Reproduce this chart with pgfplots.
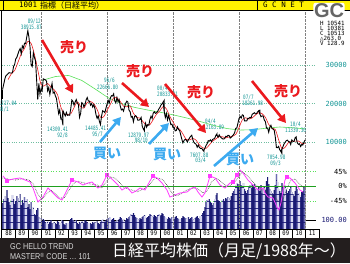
\documentclass[border=0pt]{standalone}
\usepackage{pgfplots}
\pgfplotsset{compat=1.18}
\usepackage{pgfplotstable}
\usepackage{fontspec}
\usepackage{graphicx}
\usetikzlibrary{arrows.meta,patterns}
\setmainfont{Liberation Sans}
\newfontfamily\jp{Noto Sans CJK JP}
\newfontfamily\mono{DejaVu Sans Mono}

\definecolor{tealc}{RGB}{20,150,150}
\definecolor{redc}{RGB}{235,25,30}
\definecolor{bluec}{RGB}{60,170,240}
\definecolor{magc}{RGB}{255,60,255}
\definecolor{navyc}{RGB}{25,25,115}
\definecolor{midc}{RGB}{110,110,180}
\definecolor{lavc}{RGB}{215,215,240}
\definecolor{greenl}{RGB}{90,225,90}
\definecolor{greend}{RGB}{30,160,30}
\definecolor{gridg}{RGB}{110,190,160}
\definecolor{bannerc}{RGB}{35,30,30}

\pgfdeclarepatternformonly{stripeA}{\pgfqpoint{0pt}{0pt}}{\pgfqpoint{7pt}{7pt}}{\pgfqpoint{7pt}{7pt}}{\pgfpathrectangle{\pgfqpoint{3pt}{0pt}}{\pgfqpoint{1.8pt}{7pt}}\pgfusepath{fill}}
\pgfdeclarepatternformonly{stripeB}{\pgfqpoint{0pt}{0pt}}{\pgfqpoint{7pt}{7pt}}{\pgfqpoint{7pt}{7pt}}{\pgfpathrectangle{\pgfqpoint{4.8pt}{0pt}}{\pgfqpoint{2.2pt}{7pt}}\pgfusepath{fill}}

\newcommand{\lf}{\mono\fontsize{6}{6}\selectfont}
\newcommand{\sq}[1]{\scalebox{0.72}[1]{#1}}

\pgfplotstableread{
c
23622
24903
26260
27191
27417
27769
28019
27911
27923
27982
29579
30159
31581
31986
32839
33713
34267
32949
34954
34431
35637
35549
37269
38916
37189
34592
29980
29585
33131
31940
31036
25978
20984
25194
22455
23849
23293
26409
26292
26111
25790
23291
24121
22336
23916
25222
22688
22984
22023
21339
19346
17391
18348
15952
15910
18061
17399
16767
17684
16925
17024
16953
18591
20919
20552
19590
20380
21027
20106
19703
16408
17417
20229
19997
19112
19725
20974
21553
20642
20629
19564
19990
19076
19723
18650
17053
16140
16807
15437
14517
16678
18117
17913
17655
18744
19868
20813
20125
21407
22041
21956
22531
20693
20167
21556
20467
21020
19361
18330
18557
18003
19151
20069
20605
20331
18229
17888
16459
16636
15259
16628
16832
16527
15641
15671
15830
16379
14108
13406
13565
14883
13842
14500
14368
15837
16702
16112
17530
17862
17437
17605
17942
18558
18934
19540
19960
20337
17974
16332
17411
15727
16861
15747
14540
14649
13786
13844
12884
13000
13934
13262
12969
11861
10714
9775
10367
10697
10543
9998
10588
11025
11493
11764
10622
9877
9619
9383
8640
9216
8579
8340
8363
7973
7831
8425
9083
9563
10344
10219
10560
10101
10677
10784
11042
11715
11762
11236
11859
11326
11082
10824
10771
10899
11489
11388
11741
11669
11009
11277
11584
11900
12414
13574
13607
14872
16111
16650
16206
17060
16906
15467
15505
15457
16141
16128
16399
16274
17226
17383
17604
17288
17400
17876
18138
17249
16569
16786
16737
15681
15308
13592
13604
12526
13850
14339
13481
13377
13073
11260
8577
8512
8860
7994
7568
8110
8828
9523
9958
10357
10493
10133
10035
9346
10546
10198
10126
11090
11057
9769
9383
9537
8824
9369
9202
9937
10513
}\pricetab

\pgfplotstableread{
r
26194
27705
28596
30688
32889
34325
36126
35583
32736
28776
24916
24582
25198
24261
23545
22267
19067
17177
17124
17324
18938
20429
19174
18811
20265
20515
19937
18439
16434
16578
18163
19769
21479
21491
20544
19290
19119
19379
17467
16390
16188
15173
14364
14499
15842
17208
18056
19212
18592
16675
15218
13784
13316
12086
10660
10536
10915
10460
9219
8519
8336
9244
10244
10813
11400
11348
11065
11326
11445
11960
13746
15751
16299
15934
16271
17029
17615
17336
16388
14575
13565
13230
10610
8270
8664
9882
10152
10224
10271
9657
9564
}\matab

\pgfplotstableread{
v
26
30
33
28
39
31
27
24
29
34
30
25
28
33
27
31
35
24
29
26
32
28
30
22
25
20
27
18
22
15
14
19
21
12
10
11
8
10
9
7
6
8
5
7
9
6
5
7
6
5
8
7
4
6
9
8
5
4
6
5
6
8
10
11
9
7
8
9
6
5
7
6
8
7
6
9
8
7
6
5
6
5
7
6
7
6
8
6
5
7
9
10
8
7
9
10
11
10
12
9
10
11
8
7
9
8
10
12
11
9
10
8
9
11
10
12
13
15
14
16
14
12
11
10
9
11
10
12
13
14
12
11
12
13
15
14
13
12
14
13
12
14
15
13
14
16
15
13
12
11
10
12
11
10
12
11
10
12
13
11
10
9
10
11
13
12
11
10
11
12
10
11
12
9
10
11
12
13
11
10
13
14
16
18
22
27
29
28
30
27
26
24
26
30
34
36
29
28
27
26
29
30
28
31
30
32
31
29
33
36
38
40
44
46
45
43
48
44
42
46
40
38
36
39
42
44
41
45
43
45
40
41
39
42
38
44
36
40
43
39
48
52
45
40
38
36
35
39
44
55
47
40
38
36
46
42
40
44
39
36
38
40
42
37
35
33
38
42
40
36
34
32
37
38
42
40
}\voltab

\pgfplotsset{base/.style={scale only axis, width=314pt, height=219pt,
  at={(2pt,34pt)}, anchor=south west, xmin=-0.5, xmax=285,
  axis line style={draw=none}, major tick length=0pt,
  xticklabels={}, yticklabels={}}}

\begin{document}
\begin{tikzpicture}[x=1pt,y=1pt]
\useasboundingbox (0,0) rectangle (350,263);
\fill[white] (0,0) rectangle (350,263);

% oscillator grid
\begin{axis}[base, ymin=-129, ymax=528, xtick=\empty, ytick=\empty]
\addplot[greenl, dotted, line width=0.7pt] coordinates {(-0.5,45) (285,45)};
\addplot[greenl, dotted, line width=0.7pt] coordinates {(-0.5,-45) (285,-45)};
\end{axis}

% volume
\begin{axis}[base, ymin=0, ymax=219, xtick=\empty, ytick=\empty]
\addplot[black, line width=0.8pt] coordinates {(-0.5,9) (285,9)};
\addplot[ybar, bar width=1.08, bar shift=0pt, fill=navyc, draw=none] table[x expr=\coordindex, y=v] {\voltab};
\addplot[ybar, bar width=1.08, bar shift=0pt, draw=none, pattern=stripeA, pattern color=midc] table[x expr=\coordindex, y=v] {\voltab};
\addplot[ybar, bar width=1.08, bar shift=0pt, draw=none, pattern=stripeB, pattern color=lavc] table[x expr=\coordindex, y=v] {\voltab};
\end{axis}

% oscillator lines
\begin{axis}[base, ymin=-129, ymax=528, xtick=\empty, ytick=\empty]
\addplot[greend, line width=0.9pt] coordinates {(-0.5,0) (285,0)};
\addplot[black!75, densely dotted, line width=0.6pt] coordinates {
(0,24)(6,20)(12,18)(18,22)(24,18)(28,6)(32,-24)(36,-40)(40,-24)(44,-12)(48,-24)(52,-36)(56,-36)(60,-15)(64,6)(68,15)(74,9)(80,6)(86,3)(90,-6)(94,12)(98,27)(102,24)(106,12)(110,-3)(114,-9)(118,-12)(122,-18)(126,-12)(130,-6)(134,6)(138,21)(142,24)(146,18)(150,0)(154,-21)(158,-30)(162,-24)(166,-15)(170,-9)(174,-6)(178,-9)(182,-21)(186,-15)(190,12)(194,24)(198,15)(202,3)(206,0)(210,9)(214,24)(218,42)(222,33)(226,18)(230,3)(234,-6)(238,-9)(242,-21)(246,-30)(250,-42)(254,-51)(258,-12)(262,18)(266,21)(270,6)(274,-6)};
\addplot[magc, line width=0.8pt] coordinates {
(0.4,30)(4.0,16)(9.5,21)(15.9,24)(25,12)(27.7,-6)(32.2,-48)(36.8,-33)(41.3,-6)(45.9,-21)(50.4,-36)(54,-42)(58.6,-12)(63.1,18)(68.6,12)(73.1,3)(77.7,9)(81.3,12)(84,3)(86.8,-6)(90.4,3)(95,33)(100.4,18)(105,3)(108.6,-12)(113.1,-3)(117.7,-21)(121.3,-15)(125,-6)(129.5,-12)(134,15)(136.8,30)(140.4,24)(145,9)(149.5,-12)(152.2,-33)(156.8,-27)(161.3,-21)(167.7,-18)(172.2,-6)(175,-3)(177.7,-18)(181.3,-33)(184,-21)(186.8,9)(188.6,30)(193.2,24)(197.7,3)(202.2,-6)(206.8,9)(209.5,12)(213.1,33)(215.9,48)(218.6,39)(223.1,18)(227.7,3)(232.2,-12)(236.8,-6)(238.6,-21)(241.3,-33)(245.9,-36)(249.5,-63)(251.3,-72)(253.1,-51)(255,-12)(256.8,18)(258.6,27)(261.3,24)(265.9,9)(270.4,-12)(273.1,-18)};
\addplot[only marks, mark=square*, mark size=1.5pt, magc] coordinates {
(4.0,16)(63.1,18)(95,33)(136.8,30)(188.6,30)(209.5,12)(213.1,33)(258.6,27)};
\end{axis}

% price
\begin{axis}[base, ymin=-12597, ymax=44286,
  xtick={35.5,95.5,155.5,215.5,275.5}, ytick={10000,20000,30000},
  xmajorgrids, ymajorgrids,
  x grid style={densely dotted, black!50, line width=0.5pt},
  y grid style={dotted, gridg, line width=0.7pt}]
\addplot[greenl, line width=0.6pt] coordinates {
(36,26000)(48,27000)(60,27300)(72,26000)(84,23800)(96,21500)(108,20000)(120,19000)(132,18300)(144,17700)(156,17000)(168,16200)(180,15300)(192,14300)(204,13500)(216,13100)(228,13200)(240,13600)(252,13900)(264,13700)(275,13400)};
\addplot[redc, line width=0.6pt, smooth] table[x expr=5+3*\coordindex, y=r] {\matab};
\addplot[black, line width=0.9pt] table[x expr=\coordindex, y=c] {\pricetab};
\addplot[black, line width=0.9pt] coordinates {(0,21217)(0,23622)};
\addplot[black, line width=0.9pt] coordinates {(54,15910)(55,14309)(55,18061)};
\addplot[black, line width=0.9pt] coordinates {(128,13406)(129,12880)(129,13565)};
\addplot[black, line width=0.9pt] coordinates {(146,20337)(147,20833)(147,17974)};
\addplot[black, line width=0.9pt] coordinates {(182,7973)(183,7608)(183,7831)};
\addplot[black, line width=0.9pt] coordinates {(194,11715)(195,12164)(195,11762)};
\addplot[black, line width=0.9pt] coordinates {(233,18138)(234,18262)(234,17249)};
\addplot[black, line width=0.9pt] coordinates {(253,7568)(254,7055)(254,8110)};
\addplot[black, line width=0.9pt] coordinates {(266,11090)(267,11339)(267,11057)};
\end{axis}

% left frame
\draw[black, line width=0.8pt] (1,25) -- (1,253);

% header
\fill[yellow] (0,253) rectangle (350,263);
\draw[black, line width=0.8pt] (0,253) -- (350,253);
\draw[black, line width=0.8pt] (0,262.6) -- (350,262.6);
\draw[black, line width=0.8pt] (3,253) -- (3,263);
\draw[black, line width=0.8pt] (257,253) -- (257,263);
\node[anchor=west, inner sep=0pt, font=\mono\fontsize{7.5}{7.5}\selectfont] at (19,258) {1001};
\node[anchor=west, inner sep=0pt, font=\jp\fontsize{8}{8}\selectfont] at (40,258) {指標（日経平均）};
\node[anchor=west, inner sep=0pt, font=\mono\fontsize{7.5}{7.5}\selectfont] at (263,258) {G C N E T};

% GC logo
\node[fill=white, inner sep=0.6pt, rounded corners=2pt, text=black!60, font=\fontsize{20}{20}\selectfont\bfseries] at (329,252.5) {GC};

% info
\foreach \t [count=\i] in {H 10541,L 10381,C 10513,△263.0,V 128.9}
  \node[anchor=west, inner sep=0pt, font=\mono\fontsize{5.8}{5.8}\selectfont] at (320,263-18-5*\i) {\t};

% right axis labels
\node[anchor=east, inner sep=0pt, text=tealc, font=\mono\fontsize{7}{7}\selectfont] at (347,198) {30000};
\node[anchor=east, inner sep=0pt, text=tealc, font=\mono\fontsize{7}{7}\selectfont] at (347,159) {20000};
\node[anchor=east, inner sep=0pt, text=tealc, font=\mono\fontsize{7}{7}\selectfont] at (347,121) {10000};
\node[anchor=east, inner sep=0pt, font=\mono\fontsize{7}{7}\selectfont] at (347,91.5) {45\%};
\node[anchor=east, inner sep=0pt, font=\mono\fontsize{7}{7}\selectfont] at (347,77) {0\%};
\node[anchor=east, inner sep=0pt, font=\mono\fontsize{7}{7}\selectfont] at (347,62) {-45\%};
\node[anchor=east, inner sep=0pt, text=navyc, font=\mono\fontsize{7}{7}\selectfont] at (347,43) {100.00};

% value annotations
\begin{scope}[every node/.style={inner sep=0pt, text=tealc, font=\lf}]
\node[anchor=east] at (41,263-21.5) {\sq{89/12}};
\node[anchor=east] at (42,263-27) {\sq{38915.87}};
\node[anchor=east] at (17,263-103.5) {\sq{21217.04}};
\node[anchor=east] at (9,263-110) {\sq{88/1}};
\node[anchor=west] at (47,263-129.5) {\sq{14309.41}};
\node[anchor=east] at (68,263-135.5) {\sq{92/8}};
\node[anchor=west] at (85,263-128.5) {\sq{14485.41}};
\node[anchor=east] at (103,263-134.5) {\sq{95/7}};
\node[anchor=west] at (104,263-81) {\sq{96/6}};
\node[anchor=west] at (97,263-87) {\sq{22666.80}};
\node[anchor=west] at (128,263-135) {\sq{12879.97}};
\node[anchor=east] at (148,263-141) {\sq{98/10}};
\node[anchor=west] at (157,263-88.5) {\sq{00/4}};
\node[anchor=west] at (157,263-94) {\sq{20833.21}};
\node[anchor=west] at (190,263-155) {\sq{7607.88}};
\node[anchor=east] at (206,263-161) {\sq{03/4}};
\node[anchor=west] at (205,263-121.5) {\sq{04/4}};
\node[anchor=west] at (203,263-127) {\sq{12163.89}};
\node[anchor=west] at (243,263-98) {\sq{07/7}};
\node[anchor=west] at (242,263-103.5) {\sq{18261.98}};
\node[anchor=west] at (267,263-157.5) {\sq{7054.98}};
\node[anchor=east] at (281,263-163.5) {\sq{09/3}};
\node[anchor=west] at (290,263-124.5) {\sq{10/4}};
\node[anchor=west] at (285,263-130) {\sq{11339.30}};
\end{scope}

% sell / buy arrows
\begin{scope}[line width=2.6pt]
\draw[redc, -{Triangle[length=8pt,width=9pt]}] (42,263-40) -- (73,263-93);
\draw[redc, -{Triangle[length=8pt,width=9pt]}] (122,263-83) -- (149,263-107);
\draw[redc, -{Triangle[length=8pt,width=9pt]}] (165,263-84) -- (206,263-133);
\draw[redc, -{Triangle[length=8pt,width=9pt]}] (252,263-81) -- (286,263-123);
\draw[bluec, -{Triangle[length=8pt,width=9pt]}] (100,263-142) -- (121,263-117);
\draw[bluec, -{Triangle[length=8pt,width=9pt]}] (149,263-144) -- (169,263-123);
\draw[bluec, -{Triangle[length=8pt,width=9pt]}] (214,263-166) -- (258,263-128);
\end{scope}
\begin{scope}[every node/.style={inner sep=0pt, font=\jp\bfseries\fontsize{14}{14}\selectfont}]
\node[text=redc] at (74,263-47) {売り};
\node[text=redc] at (140,263-71) {売り};
\node[text=redc] at (201,263-92) {売り};
\node[text=redc] at (288,263-91) {売り};
\node[text=bluec] at (107,263-153) {買い};
\node[text=bluec] at (167,263-154) {買い};
\node[text=bluec] at (240,263-159) {買い};
\end{scope}

% year row
\fill[white] (2,25) rectangle (318.8,34);
\draw[black, line width=0.6pt] (1,34) -- (318.8,34);
\foreach \yy [count=\i from 0] in {88,89,90,91,92,93,94,95,96,97,98,99,00,01,02,03,04,05,06,07,08,09,10,11} {
  \draw[black, line width=0.5pt] (2+13.2*\i+13.2,25) -- (2+13.2*\i+13.2,34);
  \node[inner sep=0pt, font=\mono\fontsize{6.5}{6.5}\selectfont] at (2+13.2*\i+6.6,29.5) {\scalebox{0.85}[1]{\yy}};
}

% banner
\fill[bannerc] (0,0) rectangle (350,25);
\node[anchor=west, inner sep=0pt, text=white!85!black, font=\fontsize{8.5}{8.5}\selectfont] at (10,16) {\scalebox{0.85}[1]{GC HELLO TREND}};
\node[anchor=west, inner sep=0pt, text=white!85!black, font=\fontsize{8.5}{8.5}\selectfont] at (10,6.5) {\scalebox{0.85}[1]{MASTER\textsuperscript{®} CODE … 101}};
\node[anchor=west, inner sep=0pt, text=white, font=\jp\fontsize{16}{16}\selectfont] at (112,12) {日経平均株価（月足/1988年〜）};
\end{tikzpicture}
\end{document}
